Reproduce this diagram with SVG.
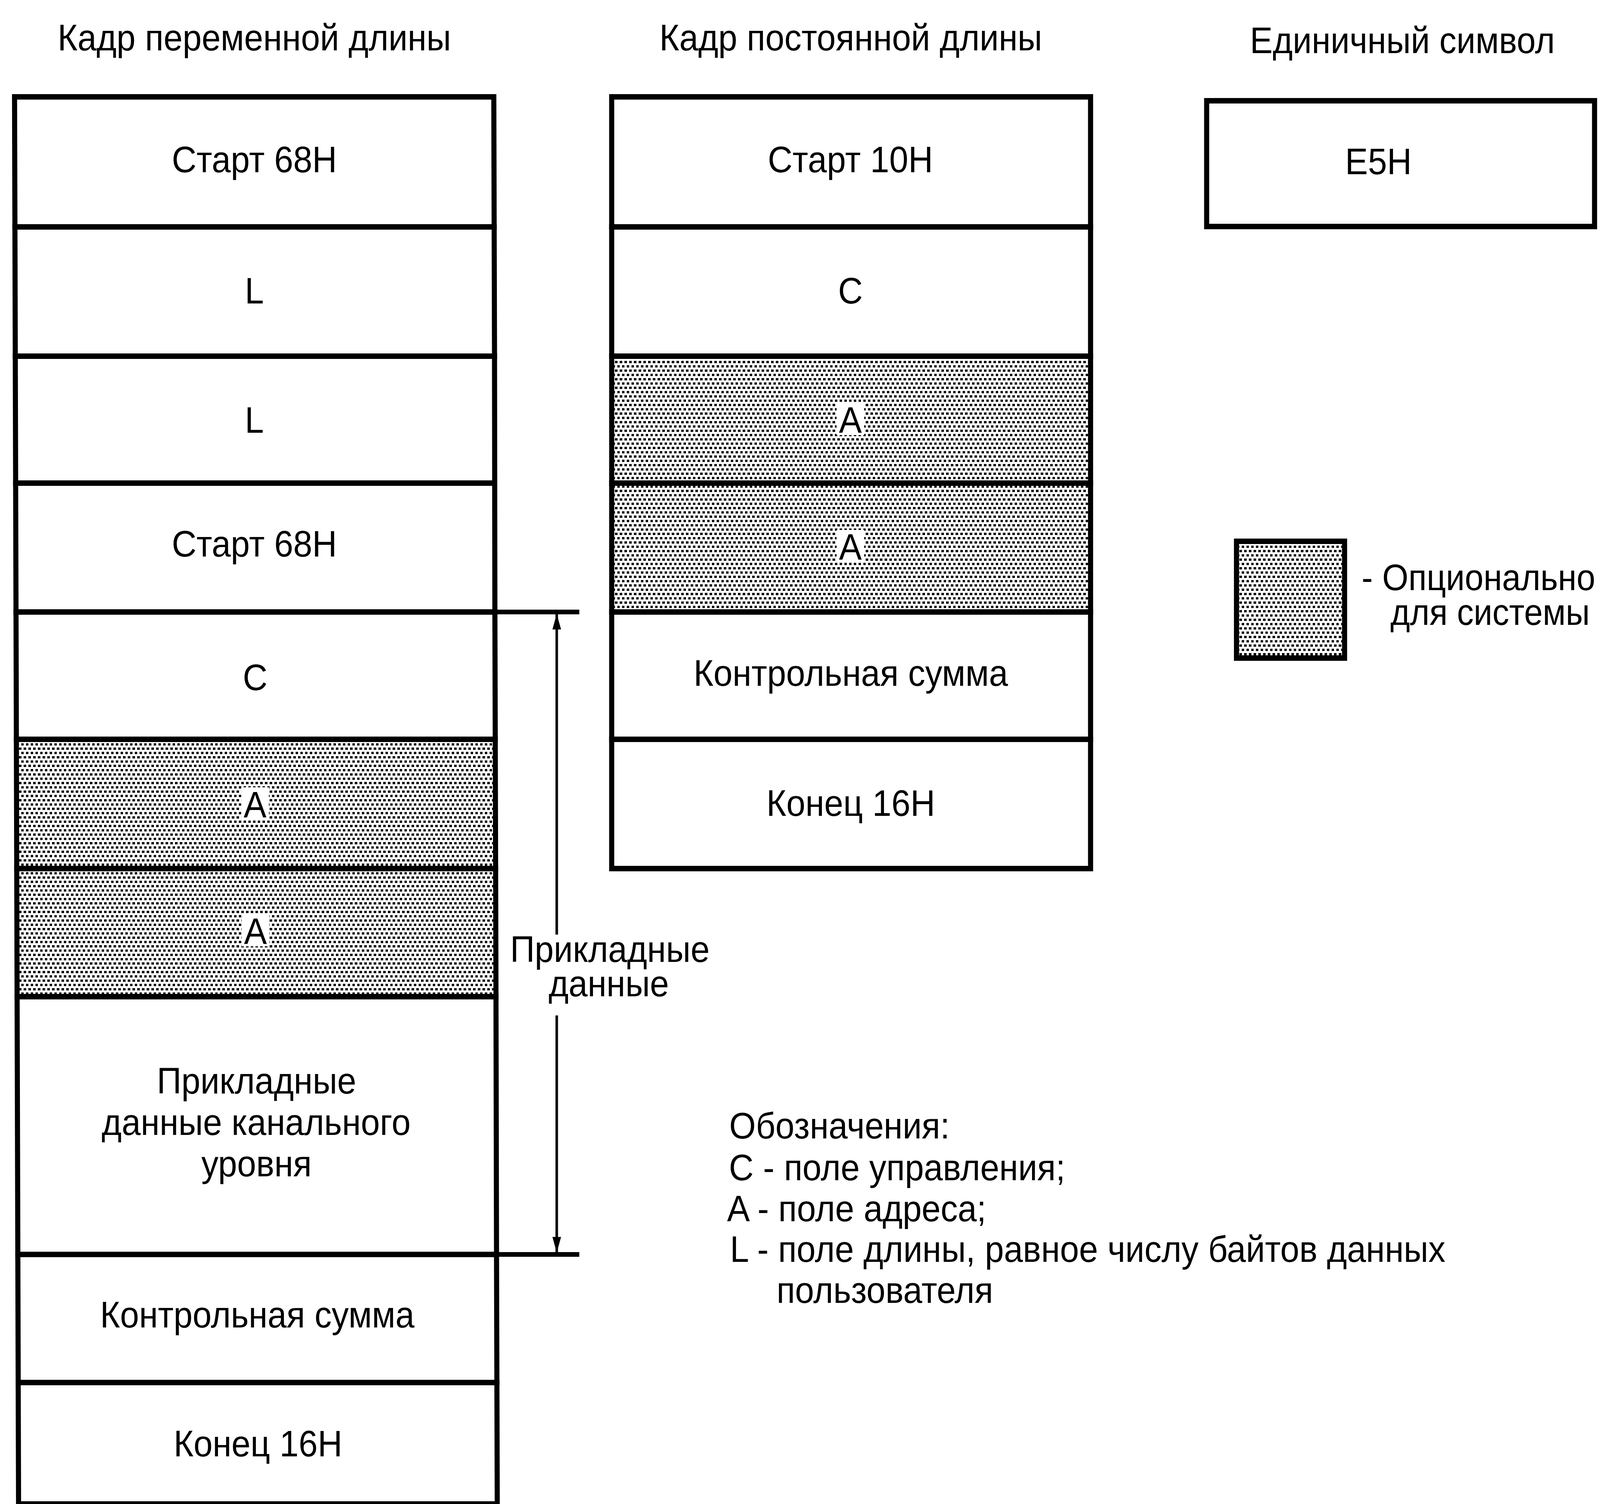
<svg xmlns="http://www.w3.org/2000/svg" width="4397" height="3851" viewBox="0 0 4397 3851">
<style>
text{font-family:"Liberation Sans",Arial,sans-serif;font-size:94px;fill:#000}
.c{text-anchor:middle}
.cell{stroke:#000;stroke-width:14;fill:#fff;stroke-linejoin:miter}
.sh{fill:url(#dots)}
.ko{fill:#fff;stroke:none}
.ext{stroke:#000;stroke-width:12;fill:none}
.shaft{stroke:#000;stroke-width:7;fill:none}
</style>
<defs>
<pattern id="dots" patternUnits="userSpaceOnUse" width="13" height="22">
<rect width="13" height="22" fill="#fff"/>
<rect x="0" y="0" width="7" height="6" fill="#000"/>
<rect x="6.5" y="11" width="7" height="6" fill="#000"/>
</pattern>
<marker id="ah" markerUnits="userSpaceOnUse" markerWidth="40" markerHeight="64" refX="62" refY="20" orient="auto" viewBox="0 0 64 40">
<polygon points="0,1 64,20 0,39" fill="#000"/>
</marker>
</defs>
<rect width="4397" height="3851" fill="#fff"/>
<g id="diagram" transform="scale(0.93155,1)">

<g id="titles">
<text class="c" x="699" y="129">Кадр переменной длины</text>
<text class="c" x="2338" y="129">Кадр постоянной длины</text>
<text class="c" x="3854" y="136" textLength="838" lengthAdjust="spacingAndGlyphs">Единичный символ</text>
</g>

<g id="variable-frame">
<g id="v-start1"><polygon class="cell" points="40,248 1357,248 1358,581 41,581"/><text class="c" x="699" y="441">Старт 68H</text></g>
<g id="v-L1"><polygon class="cell" points="41,581 1358,581 1359,912 42,912"/><text class="c" x="699" y="777">L</text></g>
<g id="v-L2"><polygon class="cell" points="42,912 1359,912 1359.5,1237 43,1237"/><text class="c" x="699" y="1108">L</text></g>
<g id="v-start2"><polygon class="cell" points="43,1237 1359.5,1237 1360,1567 44,1567"/><text class="c" x="699" y="1425">Старт 68H</text></g>
<g id="v-C"><polygon class="cell" points="44,1567 1360,1567 1361,1893 45,1893"/><text class="c" x="701" y="1767">C</text></g>
<g id="v-A1"><polygon class="cell sh" points="45,1893 1361,1893 1362,2224 46,2224"/><rect class="ko" x="663" y="2016" width="76" height="82"/><text class="c" x="701" y="2093">A</text></g>
<g id="v-A2"><polygon class="cell sh" points="46,2224 1362,2224 1363,2552 47,2552"/><rect class="ko" x="664" y="2341" width="76" height="82"/><text class="c" x="702" y="2417">A</text></g>
<g id="v-data"><polygon class="cell" points="47,2552 1363,2552 1364.5,3212 49,3212"/><text class="c" x="705" y="2800">Прикладные</text><text class="c" x="704" y="2906">данные канального</text><text class="c" x="705" y="3012">уровня</text></g>
<g id="v-crc"><polygon class="cell" points="49,3212 1364.5,3212 1365.5,3540 50,3540"/><text class="c" x="707" y="3399">Контрольная сумма</text></g>
<g id="v-end"><polygon class="cell" points="50,3540 1365.5,3540 1366.5,3851 51,3851"/><text class="c" x="709" y="3729">Конец 16H</text></g>
</g>

<g id="fixed-frame">
<g id="f-start"><rect class="cell" x="1681" y="248" width="1316" height="333"/><text class="c" x="2337" y="441">Старт 10H</text></g>
<g id="f-C"><rect class="cell" x="1681" y="581" width="1316" height="331"/><text class="c" x="2337" y="777">C</text></g>
<g id="f-A1"><rect class="cell sh" x="1681" y="912" width="1316" height="325"/><rect class="ko" x="2299" y="1032" width="76" height="82"/><text class="c" x="2337" y="1108">A</text></g>
<g id="f-A2"><rect class="cell sh" x="1681" y="1237" width="1316" height="330"/><rect class="ko" x="2299" y="1357" width="76" height="82"/><text class="c" x="2337" y="1433">A</text></g>
<g id="f-crc"><rect class="cell" x="1681" y="1567" width="1316" height="326"/><text class="c" x="2338" y="1756">Контрольная сумма</text></g>
<g id="f-end"><rect class="cell" x="1681" y="1893" width="1316" height="331"/><text class="c" x="2338" y="2089">Конец 16H</text></g>
</g>

<g id="single-char">
<rect class="cell" x="3316" y="258" width="1066" height="322"/>
<text class="c" x="3788" y="446">E5H</text>
</g>

<g id="legend-optional">
<rect class="cell sh" x="3398" y="1386" width="297" height="299"/>
<text x="3742" y="1511" textLength="642" lengthAdjust="spacingAndGlyphs">- Опционально</text>
<text x="3821" y="1600" textLength="548" lengthAdjust="spacingAndGlyphs">для системы</text>
</g>

<g id="connectors">
<line class="ext" x1="1360" y1="1567" x2="1592" y2="1567"/>
<line class="ext" x1="1364" y1="3212" x2="1592" y2="3212"/>
<line class="shaft" x1="1530" y1="2393" x2="1530" y2="1573" marker-end="url(#ah)"/>
<line class="shaft" x1="1530" y1="2600" x2="1530" y2="3206" marker-end="url(#ah)"/>
</g>

<g id="span-label">
<text class="c" x="1676" y="2463">Прикладные</text>
<text class="c" x="1673" y="2551">данные</text>
</g>

<g id="notation">
<text x="2004" y="2915">Обозначения:</text>
<text x="2003" y="3022">C - поле управления;</text>
<text x="1998" y="3127">A - поле адреса;</text>
<text x="2006" y="3231">L - поле длины, равное числу байтов данных</text>
<text x="2134" y="3336">пользователя</text>
</g>
</g>
</svg>
